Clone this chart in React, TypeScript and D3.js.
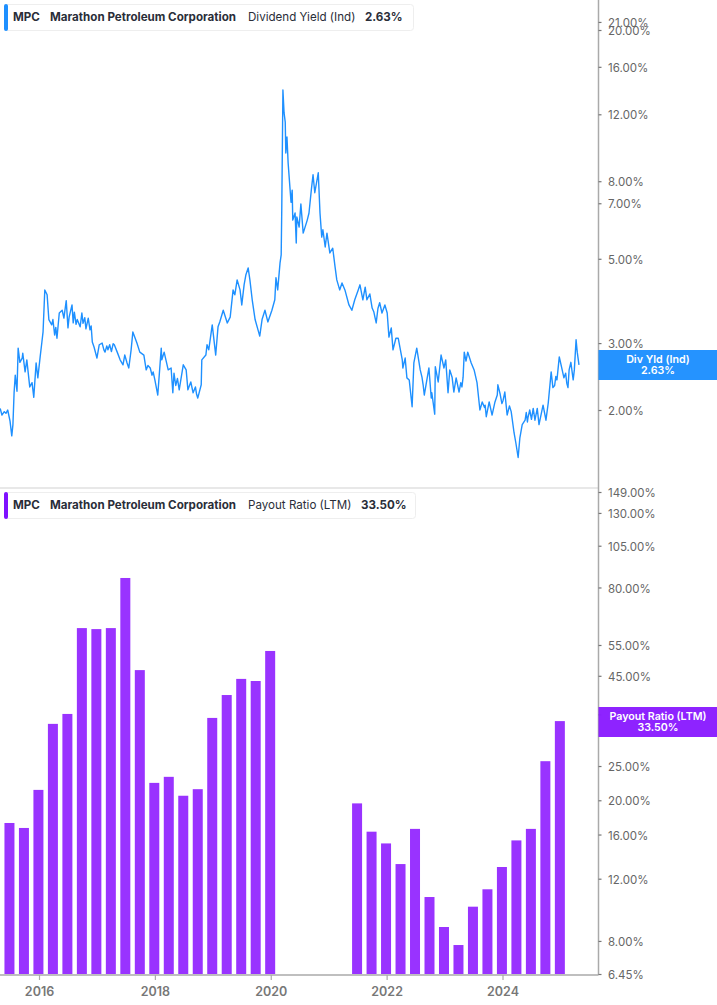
import { useEffect, useRef } from 'react';
import * as d3 from "d3";

const yieldYears = [
  2015.33, 2015.36, 2015.40, 2015.43, 2015.46, 2015.50, 2015.53, 2015.55, 2015.57, 2015.59, 2015.62, 2015.64, 2015.67, 2015.71, 2015.72, 2015.76, 2015.79, 2015.84, 2015.88, 2015.91, 2015.95, 2015.98,
  2016.02, 2016.05, 2016.07, 2016.10, 2016.14, 2016.17, 2016.22, 2016.24, 2016.27, 2016.29, 2016.31, 2016.35, 2016.40, 2016.43, 2016.47, 2016.50, 2016.52, 2016.57, 2016.59, 2016.61, 2016.64, 2016.66, 2016.71, 2016.74, 2016.76, 2016.79, 2016.81, 2016.85, 2016.88, 2016.90, 2016.92, 2016.95,
  2017.00, 2017.04, 2017.09, 2017.12, 2017.14, 2017.17, 2017.19, 2017.22, 2017.25, 2017.28, 2017.30, 2017.35, 2017.40, 2017.45, 2017.48, 2017.52, 2017.55, 2017.59, 2017.62, 2017.69, 2017.74, 2017.81, 2017.85, 2017.88, 2017.92, 2017.95, 2017.97,
  2018.00, 2018.05, 2018.11, 2018.12, 2018.16, 2018.23, 2018.28, 2018.31, 2018.33, 2018.36, 2018.39, 2018.42, 2018.49, 2018.54, 2018.57, 2018.62, 2018.66, 2018.70, 2018.72, 2018.74, 2018.80, 2018.81, 2018.88, 2018.90, 2018.93, 2018.99,
  2019.05, 2019.09, 2019.12, 2019.18, 2019.25, 2019.30, 2019.35, 2019.38, 2019.42, 2019.47, 2019.50, 2019.54, 2019.57, 2019.61, 2019.64, 2019.68, 2019.73, 2019.78, 2019.81, 2019.85, 2019.90, 2019.95,
  2020.02, 2020.07, 2020.09, 2020.12, 2020.16, 2020.18, 2020.19, 2020.20, 2020.21, 2020.23, 2020.25, 2020.26, 2020.28, 2020.30, 2020.33, 2020.35, 2020.37, 2020.38, 2020.42, 2020.44, 2020.45, 2020.49, 2020.52, 2020.56, 2020.63, 2020.66, 2020.70, 2020.73, 2020.76, 2020.82, 2020.85, 2020.88, 2020.90, 2020.94, 2020.97,
  2021.02, 2021.07, 2021.11, 2021.14, 2021.19, 2021.23, 2021.28, 2021.35, 2021.40, 2021.45, 2021.51, 2021.54, 2021.59, 2021.63, 2021.66, 2021.71, 2021.75, 2021.78, 2021.80, 2021.82, 2021.85, 2021.88, 2021.92, 2021.97,
  2022.01, 2022.04, 2022.08, 2022.11, 2022.16, 2022.20, 2022.27, 2022.28, 2022.32, 2022.35, 2022.39, 2022.44, 2022.47, 2022.52, 2022.58, 2022.61, 2022.63, 2022.65, 2022.68, 2022.73, 2022.77, 2022.78, 2022.83, 2022.84, 2022.89, 2022.94, 2022.99,
  2023.02, 2023.06, 2023.09, 2023.13, 2023.16, 2023.20, 2023.25, 2023.28, 2023.30, 2023.32, 2023.34, 2023.37, 2023.40, 2023.46, 2023.51, 2023.56, 2023.61, 2023.65, 2023.69, 2023.70, 2023.72, 2023.77, 2023.82, 2023.87, 2023.91, 2023.92, 2023.96, 2023.99,
  2024.01, 2024.04, 2024.08, 2024.12, 2024.15, 2024.20, 2024.23, 2024.27, 2024.30, 2024.34, 2024.39, 2024.41, 2024.43, 2024.44, 2024.47, 2024.50, 2024.53, 2024.56, 2024.60, 2024.63, 2024.70, 2024.75, 2024.79, 2024.84, 2024.87, 2024.90, 2024.92, 2024.94, 2024.98,
  2025.03, 2025.06, 2025.09, 2025.11, 2025.13, 2025.15, 2025.18, 2025.22, 2025.24, 2025.27, 2025.29, 2025.32,
];
const yieldValues = [
  2.02, 1.94, 1.98, 1.96, 2.00, 1.87, 1.71, 1.83, 2.22, 2.47, 2.24, 2.91, 2.67, 2.74, 2.82, 2.52, 2.71, 2.30, 2.36, 2.16, 2.66, 2.43,
  2.76, 3.02, 3.21, 4.14, 4.02, 3.46, 3.35, 3.46, 3.15, 3.30, 3.09, 3.60, 3.66, 3.49, 3.88, 3.29, 3.51, 3.78, 3.39, 3.62, 3.36, 3.46, 3.31, 3.60, 3.38, 3.50, 3.27, 3.49, 3.25, 3.33, 3.02, 2.93,
  2.74, 2.97, 3.00, 2.88, 2.84, 2.95, 2.88, 2.97, 2.85, 2.99, 2.97, 2.84, 2.71, 2.63, 2.79, 2.66, 2.58, 2.88, 3.21, 3.00, 2.84, 2.79, 2.55, 2.62, 2.58, 2.47, 2.52,
  2.40, 2.19, 2.91, 2.71, 2.84, 2.55, 2.58, 2.22, 2.50, 2.32, 2.42, 2.26, 2.63, 2.55, 2.26, 2.37, 2.22, 2.30, 2.20, 2.15, 2.33, 2.71, 2.79, 2.97, 2.88, 3.35,
  2.79, 3.31, 3.41, 3.66, 3.39, 3.51, 4.14, 4.02, 4.40, 4.14, 3.78, 4.27, 4.53, 4.73, 4.40, 3.90, 3.46, 3.25, 3.13, 3.46, 3.66, 3.41,
  3.66, 3.90, 4.46, 4.14, 4.87, 5.12, 6.71, 9.70, 13.90, 12.10, 11.45, 9.49, 10.46, 8.93, 7.74, 7.04, 7.58, 6.32, 6.60, 5.50, 6.44, 6.06, 6.97, 5.84, 6.32, 6.60, 7.58, 8.32, 7.46, 8.42, 6.60, 5.70, 5.96, 5.37, 5.84,
  5.18, 5.33, 4.76, 4.40, 4.14, 4.32, 4.14, 3.78, 3.66, 3.90, 4.14, 4.27, 3.90, 4.21, 3.90, 4.04, 3.71, 3.62, 3.50, 3.39, 3.70, 3.83, 3.60, 3.78,
  3.60, 3.11, 3.29, 2.88, 3.09, 3.09, 2.71, 2.58, 2.74, 2.43, 2.40, 2.04, 2.66, 2.91, 2.55, 2.44, 2.33, 2.19, 2.33, 2.58, 2.15, 2.22, 1.95, 2.60, 2.37, 2.79, 2.58,
  2.71, 2.22, 2.55, 2.44, 2.23, 2.43, 2.23, 2.36, 2.30, 2.44, 2.84, 2.69, 2.84, 2.66, 2.55, 2.36, 2.00, 2.10, 2.03, 2.06, 1.92, 2.10, 1.94, 2.10, 2.19, 2.33, 2.20, 2.08,
  2.12, 2.23, 1.94, 2.05, 1.98, 1.74, 1.64, 1.50, 1.69, 1.83, 1.88, 1.97, 1.86, 1.91, 2.00, 1.89, 2.02, 1.88, 2.02, 1.83, 2.06, 1.88, 2.09, 2.52, 2.29, 2.32, 2.45, 2.40, 2.76,
  2.55, 2.43, 2.50, 2.35, 2.29, 2.55, 2.67, 2.40, 2.55, 3.06, 2.84, 2.63,
];

// quarter ends, the gap is where the ratio was not reported
const payoutYears = [
  2015.49, 2015.74, 2015.99, 2016.24, 2016.49, 2016.74, 2016.99, 2017.24, 2017.49, 2017.74,
  2017.99, 2018.24, 2018.49, 2018.74, 2018.99, 2019.24, 2019.49, 2019.74, 2019.99,
  2021.49, 2021.74, 2021.99, 2022.24, 2022.49, 2022.74, 2022.99, 2023.24, 2023.49, 2023.74,
  2023.99, 2024.24, 2024.49, 2024.74, 2024.99,
];
const payoutValues = [
  17.25, 16.7, 21.4, 32.9, 35.1, 61.4, 61.0, 61.4, 85.1, 46.7,
  22.4, 23.3, 20.6, 21.5, 34.2, 39.7, 44.1, 43.5, 52.9,
  19.6, 16.3, 15.1, 13.2, 16.6, 10.65, 8.76, 7.79, 10.0, 11.2,
  12.95, 15.4, 16.6, 25.8, 33.5,
];

const yearTicks = [2016, 2018, 2020, 2022, 2024];
const yieldTicks = [2, 3, 5, 7, 8, 12, 16, 20, 21];
const payoutTicks = [6.45, 8, 12, 16, 20, 25, 35, 45, 55, 80, 105, 130, 149];

const FONT = "Inter, 'Noto Sans', sans-serif";
const BLUE = "#1e90ff";
const PURPLE = "#9933ff";

const width = 717;
const height = 1005;
const axisX = 598.5;

const Legend = ({ y, w, color, metric, metricX, value, valueX }: any) => (
  <g fontFamily={FONT} fontSize={11.6} fill="#2a2e39" transform={`translate(0, ${y})`}>
    <rect x={4.5} y={0.5} width={w} height={26} rx={3} fill="#fff" stroke="#eeeeee" />
    <rect x={4} y={0} width={4} height={27} rx={2} fill={color} />
    <text x={13} y={17} fontWeight={700}>MPC</text>
    <text x={50} y={17} fontWeight={700}>Marathon Petroleum Corporation</text>
    <text x={metricX} y={17} fontWeight={400}>{metric}</text>
    <text x={valueX} y={17} fontWeight={700}>{value}</text>
  </g>
);

const Tag = ({ y, h, color, label, value }: any) => (
  <g fontFamily={FONT} fontSize={10.7} fontWeight={600} fill="#fff" textAnchor="middle">
    <rect x={axisX} y={y} width={width - axisX} height={h} fill={color} fillOpacity={0.97} />
    <text x={658} y={y + 13}>{label}</text>
    <text x={658} y={y + 24}>{value}</text>
  </g>
);

export default function App() {
  const yieldAxis = useRef<SVGGElement | null>(null);
  const payoutAxis = useRef<SVGGElement | null>(null);
  const timeAxis = useRef<SVGGElement | null>(null);

  const x = d3.scaleLinear().domain([2016, 2024]).range([39, 502.5]);
  const yYield = d3.scaleLog().domain([2, 20]).range([410, 30]);
  const yPayout = d3.scaleLog().domain([6.45, 149]).range([974, 492]);

  const line = d3.line<number>()
    .x((_, i) => x(yieldYears[i]))
    .y(d => yYield(d));

  useEffect(() => {
    const pct = (d: d3.NumberValue) => `${(+d).toFixed(2)}%`;

    const style = (g: d3.Selection<SVGGElement, unknown, null, undefined>) => {
      g.selectAll(".domain").remove();
      g.selectAll(".tick line").attr("stroke", "#777").attr("stroke-width", 1.2);
      g.selectAll(".tick text")
        .attr("fill", "#666")
        .attr("font-family", FONT)
        .attr("font-size", 11.5);
    };

    const gy1 = d3.select(yieldAxis.current!);
    gy1.call(d3.axisRight(yYield).tickValues(yieldTicks).tickFormat(pct).tickSize(3).tickPadding(6));
    style(gy1);
    gy1.selectAll(".tick text").attr("transform", "translate(0.5, 1)");

    const gy2 = d3.select(payoutAxis.current!);
    gy2.call(d3.axisRight(yPayout).tickValues(payoutTicks).tickFormat(pct).tickSize(3).tickPadding(6));
    style(gy2);
    gy2.selectAll(".tick text").attr("transform", "translate(0.5, 1)");

    const gx = d3.select(timeAxis.current!);
    gx.call(d3.axisBottom(x).tickValues(yearTicks).tickFormat(d3.format("d")).tickSize(5).tickPadding(7));
    style(gx);
    gx.selectAll(".tick line").attr("stroke", "#aaa");
    gx.selectAll(".tick text").attr("font-size", 12.5).attr("font-weight", 600).attr("fill", "#777");
  }, []);

  return (
    <svg
      width={width}
      height={height}
      style={{ position: "absolute", left: 0, top: 0, background: "#fff" }}
    >
      <path d={line(yieldValues) || ""} fill="none" stroke={BLUE} strokeWidth={1.4} strokeLinejoin="round" />

      {payoutValues.map((v, i) => (
        <rect
          key={payoutYears[i]}
          x={x(payoutYears[i]) - 5}
          y={yPayout(v)}
          width={10}
          height={974 - yPayout(v)}
          fill={PURPLE}
        />
      ))}

      {/* separators and the two axis lines */}
      <line x1={0} x2={axisX} y1={488} y2={488} stroke="#e0e0e0" strokeWidth={1.5} />
      <line x1={0} x2={axisX} y1={975} y2={975} stroke="#aaa" strokeWidth={1.5} />
      <line x1={axisX} x2={axisX} y1={0} y2={975} stroke="#aaa" strokeWidth={1.5} />

      <g ref={yieldAxis} transform={`translate(${axisX}, 0)`} />
      <g ref={payoutAxis} transform={`translate(${axisX}, 0)`} />
      <g ref={timeAxis} transform="translate(0, 975)" />

      <Legend y={4} w={409} color={BLUE} metric="Dividend Yield (Ind)" metricX={248} value="2.63%" valueX={365} />
      <Legend y={492} w={411} color="#7f11ff" metric="Payout Ratio (LTM)" metricX={248} value="33.50%" valueX={361} />

      <Tag y={350} h={30} color={BLUE} label="Div Yld (Ind)" value="2.63%" />
      <Tag y={707} h={30} color="#8a1cff" label="Payout Ratio (LTM)" value="33.50%" />
    </svg>
  );
}
